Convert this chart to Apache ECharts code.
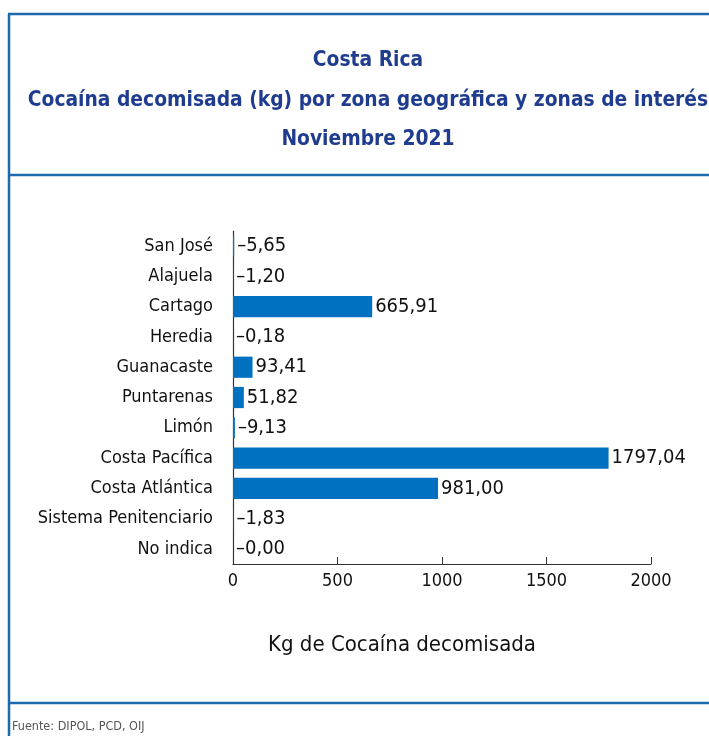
<!DOCTYPE html>
<html>
<head>
<meta charset="utf-8">
<script src="https://cdn.jsdelivr.net/npm/echarts@6/dist/echarts.min.js"></script>
<style>
  html, body { margin: 0; padding: 0; background: #fff; }
  #chart { width: 709px; height: 736px; }
</style>
</head>
<body>
<div id="chart"></div>
<script>
var categories = ['San José', 'Alajuela', 'Cartago', 'Heredia', 'Guanacaste', 'Puntarenas',
  'Limón', 'Costa Pacífica', 'Costa Atlántica', 'Sistema Penitenciario', 'No indica'];
var values = [5.65, 1.20, 665.91, 0.18, 93.41, 51.82, 9.13, 1797.04, 981.00, 1.83, 0.00];
var xTicks = [0, 500, 1000, 1500, 2000];

var narrow = '"DejaVu Sans Condensed", "Liberation Sans Narrow", sans-serif';
var blue = '#1b6aad';

var chartDom = document.getElementById('chart');
var myChart = echarts.init(chartDom);

// valores con coma decimal, con guion corto para barras pequeñas
function fmt(p) {
  var s = p.value.toFixed(2).replace('.', ',');
  return p.value < 20 ? '–' + s : s;
}

var option = {
  animation: false,
  backgroundColor: '#fff',
  title: [
    {
      text: 'Costa Rica\nCocaína decomisada (kg) por zona geográfica y zonas de interés\nNoviembre 2021',
      left: 363,
      top: 36,
      textAlign: 'center',
      textStyle: { color: '#1f3c8f', fontFamily: narrow, fontWeight: 'bold', fontSize: 20.8, lineHeight: 39.5 }
    },
    {
      text: 'Kg de Cocaína decomisada',
      left: 397,
      top: 629,
      textAlign: 'center',
      textStyle: { color: '#111', fontFamily: narrow, fontWeight: 'normal', fontSize: 22 }
    },
    {
      text: 'Fuente: DIPOL, PCD, OIJ',
      left: 7,
      top: 715,
      textStyle: { color: '#555', fontFamily: narrow, fontWeight: 'normal', fontSize: 12.5 }
    }
  ],
  graphic: [
    { type: 'line', shape: { x1: 8, y1: 14, x2: 709, y2: 14 }, style: { stroke: blue, lineWidth: 2.5 } },
    { type: 'line', shape: { x1: 9, y1: 14, x2: 9, y2: 736 }, style: { stroke: blue, lineWidth: 2.5 } },
    { type: 'line', shape: { x1: 8, y1: 175, x2: 709, y2: 175 }, style: { stroke: blue, lineWidth: 2.5 } },
    { type: 'line', shape: { x1: 8, y1: 703, x2: 709, y2: 703 }, style: { stroke: blue, lineWidth: 2.5 } }
  ],
  grid: { left: 233, right: 58, top: 231, bottom: 172 },
  xAxis: {
    type: 'value',
    min: 0,
    max: 2000,
    interval: 500,
    splitLine: { show: false },
    axisLine: { show: true, lineStyle: { color: '#333', width: 1.2 } },
    axisTick: { show: true, inside: true, length: 7, lineStyle: { color: '#333' } },
    axisLabel: {
      color: '#111', fontFamily: narrow, fontSize: 18, margin: 8,
      formatter: function (v) { return xTicks.indexOf(v) >= 0 ? String(v) : ''; }
    }
  },
  yAxis: {
    type: 'category',
    inverse: true,
    data: categories,
    axisLine: { show: true, lineStyle: { color: '#333', width: 1.2 } },
    axisTick: { show: false },
    axisLabel: { color: '#111', fontFamily: narrow, fontSize: 18, margin: 20 }
  },
  series: [
    {
      type: 'bar',
      data: values,
      barCategoryGap: '30%',
      itemStyle: { color: '#0070c0' },
      label: {
        show: true,
        position: 'right',
        distance: 3,
        color: '#111',
        fontFamily: narrow,
        fontSize: 20,
        formatter: fmt
      }
    }
  ]
};

option && myChart.setOption(option);
</script>
</body>
</html>
